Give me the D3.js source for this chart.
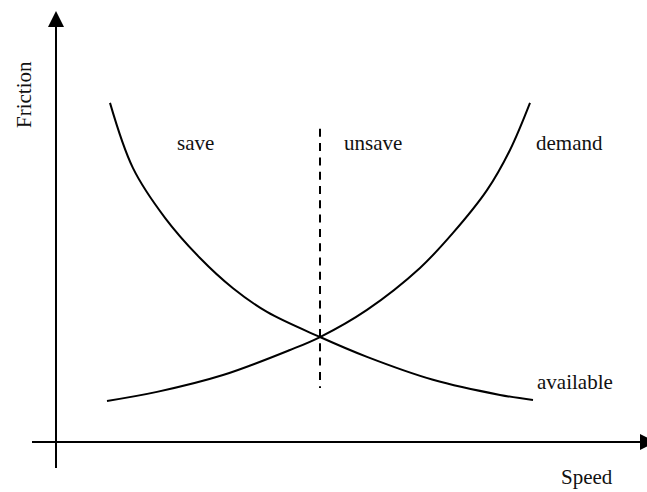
<!DOCTYPE html>
<html>
<head>
  <meta charset="utf-8">
  <title>Friction vs Speed</title>
  <script src="https://d3js.org/d3.v7.min.js" charset="utf-8"></script>
  <style>
  body {margin: 0; background: #fff;}
  text {font-family: "Liberation Serif", "Times New Roman", serif; font-size: 21px; fill: #111;}
  </style>
</head>
<body>
<script>
// speed / friction values (arbitrary units)
const availableSpeed    = [10.8, 15.4, 21.8, 28.8, 35.4, 42.2, 52.8, 62.2, 75.4, 88.8, 95.4];
const availableFriction = [78.5, 63.4, 51.9, 42.6, 35.6, 30.1, 24.3, 19.7, 14.4, 10.9, 9.7];

const demandSpeed    = [10.2, 20.2, 33.4, 46.8, 52.8, 62.2, 72.8, 79.4, 86.2, 90.8, 94.8];
const demandFriction = [9.5, 11.6, 15.5, 21.3, 24.3, 30.6, 40.3, 48.4, 58.3, 67.6, 78.5];

// limit between save and unsave (speed at the crossing)
const limitSpeed = 52.8;
const limitRange = [12.5, 72.5];

const regionLabels = ["save", "unsave"];
const curveLabels = ["demand", "available"];
const axisLabels = ["Speed", "Friction"];

const width = 647;
const height = 492;

const svg = d3.select('body')
              .append('svg')
              .attr('width', width)
              .attr('height', height);

// origin of the axes sits at (56, 442)
const xScale = d3.scaleLinear().domain([0, 120]).range([56, 656]);
const yScale = d3.scaleLinear().domain([0, 100]).range([442, 10]);

const line = d3.line()
               .x(d => xScale(d[0]))
               .y(d => yScale(d[1]))
               .curve(d3.curveCatmullRom.alpha(0.5));

const available = availableSpeed.map((s, i) => [s, availableFriction[i]]);
const demand = demandSpeed.map((s, i) => [s, demandFriction[i]]);

// axes
const x0 = xScale(0), y0 = yScale(0);
svg.append('line')
   .attr('x1', x0).attr('x2', x0)
   .attr('y1', 468).attr('y2', 24)
   .attr('stroke', '#000').attr('stroke-width', 2);
svg.append('line')
   .attr('x1', 32).attr('x2', 642)
   .attr('y1', y0).attr('y2', y0)
   .attr('stroke', '#000').attr('stroke-width', 2);

// arrow heads
svg.append('path')
   .attr('d', `M${x0},11 L${x0 + 8},27 L${x0 - 8},27 Z`)
   .attr('fill', '#000');
svg.append('path')
   .attr('d', `M656,${y0} L640,${y0 - 8} L640,${y0 + 8} Z`)
   .attr('fill', '#000');

// curves
svg.append('path')
   .datum(available)
   .attr('d', line)
   .attr('fill', 'none')
   .attr('stroke', '#000')
   .attr('stroke-width', 2);

svg.append('path')
   .datum(demand)
   .attr('d', line)
   .attr('fill', 'none')
   .attr('stroke', '#000')
   .attr('stroke-width', 2);

// dashed limit line
svg.append('line')
   .attr('x1', xScale(limitSpeed)).attr('x2', xScale(limitSpeed))
   .attr('y1', yScale(limitRange[1])).attr('y2', yScale(limitRange[0]))
   .attr('stroke', '#000')
   .attr('stroke-width', 2)
   .attr('stroke-dasharray', '8,6.3');

// labels
svg.append('text').attr('x', 177).attr('y', 150).text(regionLabels[0]);
svg.append('text').attr('x', 344).attr('y', 150).text(regionLabels[1]);
svg.append('text').attr('x', 536).attr('y', 150).text(curveLabels[0]);
svg.append('text').attr('x', 537).attr('y', 389).text(curveLabels[1]);
svg.append('text').attr('x', 561).attr('y', 484).text(axisLabels[0]);
svg.append('text')
   .attr('transform', 'translate(31,128) rotate(-90)')
   .text(axisLabels[1]);
</script>
</body>
</html>
